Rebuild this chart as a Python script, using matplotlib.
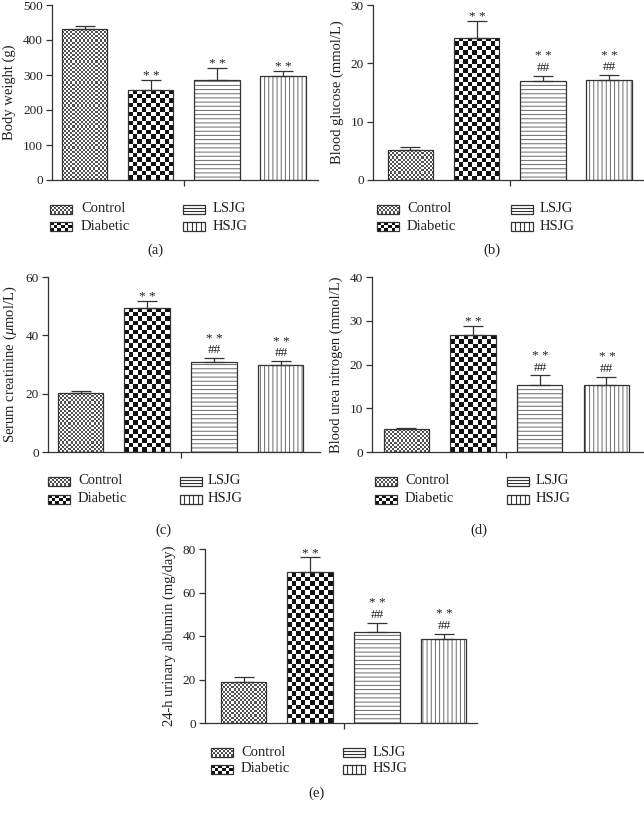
import numpy as np
import matplotlib
matplotlib.use('Agg')
import matplotlib.pyplot as plt
from matplotlib.patches import Rectangle
from matplotlib.transforms import Affine2D
from matplotlib.colors import ListedColormap

# ---------------- data ----------------
groups = ['Control', 'Diabetic', 'LSJG', 'HSJG']

body_weight = [430, 258, 285, 297]
body_weight_err = [11, 28, 35, 15]

blood_glucose = [5.1, 24.4, 17.0, 17.2]
blood_glucose_err = [0.6, 2.9, 0.9, 0.8]

serum_creatinine = [20.1, 49.4, 30.9, 29.8]
serum_creatinine_err = [0.9, 2.5, 1.3, 1.4]

blood_urea_nitrogen = [5.2, 26.7, 15.3, 15.3]
blood_urea_nitrogen_err = [0.4, 2.2, 2.2, 1.9]

urinary_albumin = [18.7, 69.3, 41.9, 38.5]
urinary_albumin_err = [2.4, 6.9, 4.3, 2.6]

stars_vs_control = ['', '* *', '* *', '* *']
hash_none = ['', '', '', '']
hash_vs_diabetic = ['', '', '##', '##']

ylabels = ['Body weight (g)', 'Blood glucose (mmol/L)',
           r'Serum creatinine ($\mathit{\mu}$mol/L)', 'Blood urea nitrogen (mmol/L)',
           '24-h urinary albumin (mg/day)']
captions = ['(a)', '(b)', '(c)', '(d)', '(e)']

# ---------------- style ----------------
plt.rcParams['font.family'] = ['Liberation Serif', 'DejaVu Serif']
plt.rcParams['mathtext.fontset'] = 'custom'
plt.rcParams['mathtext.it'] = 'Liberation Serif:italic'
plt.rcParams['mathtext.rm'] = 'Liberation Serif'
plt.rcParams['hatch.linewidth'] = 0.7
TXT = '#231f20'
EDGE = '#333333'
HATCH = '#6a6a6a'

W, H = 644, 814
fig = plt.figure(figsize=(W / 100, H / 100), dpi=100)
pix = Affine2D().scale(1 / W, -1 / H).translate(0, 1) + fig.transFigure


def add_axes_px(left, top, right, bottom):
    return fig.add_axes([left / W, 1 - bottom / H, (right - left) / W, (bottom - top) / H])


def checker_fill(ax, bar, cell_px, dark):
    x, y = bar.get_x(), bar.get_y()
    w, h = bar.get_width(), bar.get_height()
    p0 = ax.transData.transform((x, y))
    p1 = ax.transData.transform((x + w, y + h))
    wpx, hpx = p1 - p0
    nc = max(1, int(round(wpx / cell_px)))
    nr = max(1, int(round(hpx / cell_px)))
    arr = (np.add.outer(np.arange(nr), np.arange(nc)) % 2).astype(float)
    im = ax.imshow(arr, cmap=ListedColormap(['white', dark]), vmin=0, vmax=1,
                   extent=(x, x + w, y, y + h), origin='upper',
                   interpolation='nearest', aspect='auto', zorder=1.5)
    im.set_clip_path(bar)


def draw_panel(box, c0, sp, vals, errs, ymax, ystep, ylabel, stars, hashes):
    left, top, right, bottom = box
    ax = add_axes_px(left, top, right, bottom)
    x0 = -(c0 - left) / sp
    x1 = x0 + (right - left) / sp
    ax.set_xlim(x0, x1)
    ax.set_ylim(0, ymax)
    xs = np.arange(len(vals))
    bw = 45.5 / sp
    base = ax.bar(xs, vals, width=bw, color='white', linewidth=0, zorder=1)
    checker_fill(ax, base[0], 2.1, '#505050')
    checker_fill(ax, base[1], 4.5, '#111111')
    ax.bar(xs[2:3], vals[2:3], width=bw, color='white', edgecolor=HATCH,
           linewidth=0, hatch='----', zorder=1.2)
    ax.bar(xs[3:4], vals[3:4], width=bw, color='white', edgecolor=HATCH,
           linewidth=0, hatch='||||', zorder=1.2)
    ax.bar(xs, vals, width=bw, fill=False, edgecolor=EDGE, linewidth=0.9, zorder=2)
    ax.errorbar(xs, vals, yerr=[np.zeros(len(vals)), errs], fmt='none',
                ecolor=EDGE, elinewidth=0.9, capsize=7.5, capthick=0.9, zorder=3)
    tops = np.array(vals) + np.array(errs)
    for i in range(len(vals)):
        if not stars[i] and not hashes[i]:
            continue
        if hashes[i]:
            label = stars[i] + '\n' + hashes[i]
            off = 3.5
        else:
            label = stars[i]
            off = 0.5
        ax.annotate(label, (xs[i], tops[i]), xytext=(0.3, off),
                    textcoords='offset points', ha='center', va='baseline',
                    multialignment='center', linespacing=0.95,
                    fontsize=9.5, color=TXT)
    for s in ['top', 'right']:
        ax.spines[s].set_visible(False)
    for s in ['left', 'bottom']:
        ax.spines[s].set_color(EDGE)
        ax.spines[s].set_linewidth(0.9)
    ax.set_yticks(np.arange(0, ymax + ystep / 2, ystep))
    ax.set_xticks([1.5])
    ax.set_xticklabels([''])
    ax.tick_params(axis='both', direction='out', length=4.5, width=0.9,
                   color=EDGE, labelcolor=TXT, labelsize=9.5, pad=2)
    ax.set_ylabel(ylabel, fontsize=10.5, color=TXT, labelpad=5)
    return ax


def legend_item(kind, x, yc):
    w, h = 22, 9
    t = yc - h / 2
    if kind == 'Control':
        nc, nr = 11, 4
        cw, ch = w / nc, h / nr
        for r in range(nr):
            for c in range(nc):
                if (r + c) % 2:
                    fig.add_artist(Rectangle((x + c * cw, t + r * ch), cw, ch,
                                             transform=pix, color='#505050', lw=0))
    elif kind == 'Diabetic':
        nc, nr = 6, 3
        cw, ch = w / nc, h / nr
        for r in range(nr):
            for c in range(nc):
                if (r + c) % 2 == 0:
                    fig.add_artist(Rectangle((x + c * cw, t + r * ch), cw, ch,
                                             transform=pix, color='#111111', lw=0))
    elif kind == 'LSJG':
        for k in (1, 2):
            fig.add_artist(plt.Line2D([x, x + w], [t + k * h / 3] * 2, transform=pix,
                                      color=EDGE, lw=0.8))
    else:
        for k in (1, 2, 3, 4):
            fig.add_artist(plt.Line2D([x + k * w / 5] * 2, [t, t + h], transform=pix,
                                      color=EDGE, lw=0.8))
    fig.add_artist(Rectangle((x, t), w, h, transform=pix, fill=False, ec=EDGE, lw=0.9))


def draw_legend(y1, y2, p1, t1, p2, t2):
    items = [(groups[0], p1, t1, y1), (groups[1], p1, t1, y2),
             (groups[2], p2, t2, y1), (groups[3], p2, t2, y2)]
    for name, px_, tx, yc in items:
        legend_item(name, px_, yc)
        fig.text(tx, yc, name, transform=pix, ha='left', va='center',
                 fontsize=10.5, color=TXT)


panels = [
    dict(box=(52, 5, 318, 180), c0=84.5, sp=66.2, vals=body_weight, errs=body_weight_err,
         ymax=500, ystep=100, stars=stars_vs_control, hashes=hash_none,
         leg=(209, 226, 50, 81, 183, 213), cap=(155, 250)),
    dict(box=(373, 5, 644, 180), c0=410.5, sp=66.2, vals=blood_glucose, errs=blood_glucose_err,
         ymax=30, ystep=10, stars=stars_vs_control, hashes=hash_vs_diabetic,
         leg=(209, 226, 377, 407, 511, 540), cap=(492, 250)),
    dict(box=(48, 277, 320, 452), c0=80.5, sp=66.7, vals=serum_creatinine, errs=serum_creatinine_err,
         ymax=60, ystep=20, stars=stars_vs_control, hashes=hash_vs_diabetic,
         leg=(481, 499, 48, 78, 180, 208), cap=(163, 530)),
    dict(box=(372, 277, 644, 452), c0=406.3, sp=66.7, vals=blood_urea_nitrogen,
         errs=blood_urea_nitrogen_err, ymax=40, ystep=10, stars=stars_vs_control,
         hashes=hash_vs_diabetic, leg=(481, 499, 375, 405, 507, 536), cap=(479, 530)),
    dict(box=(205, 549, 477, 723), c0=243.5, sp=66.7, vals=urinary_albumin,
         errs=urinary_albumin_err, ymax=80, ystep=20, stars=stars_vs_control,
         hashes=hash_vs_diabetic, leg=(752, 769, 211, 241, 343, 373), cap=(317, 793)),
]

for i, p in enumerate(panels):
    draw_panel(p['box'], p['c0'], p['sp'], p['vals'], p['errs'], p['ymax'], p['ystep'],
               ylabels[i], p['stars'], p['hashes'])
    draw_legend(*p['leg'])
    fig.text(p['cap'][0], p['cap'][1], captions[i], transform=pix, ha='center',
             va='center', fontsize=10.5, color=TXT)

fig.savefig('out.png', dpi=100)
